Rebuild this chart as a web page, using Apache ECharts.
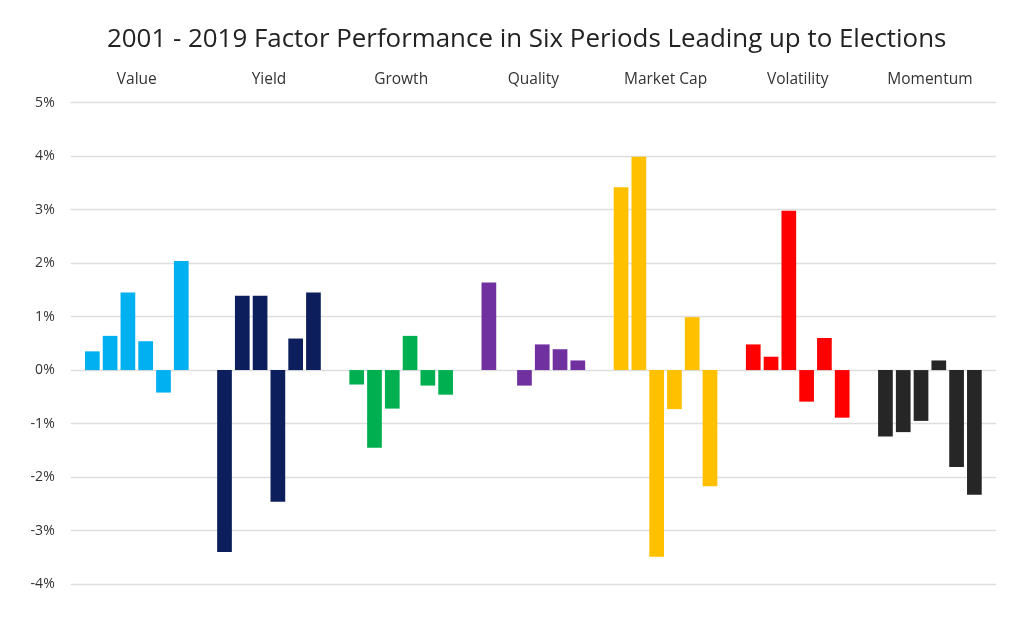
<!DOCTYPE html>
<html>
<head>
<meta charset="utf-8">
<script src="https://cdn.jsdelivr.net/npm/echarts@6/dist/echarts.min.js"></script>
<style>html,body{margin:0;padding:0;background:#fff}#c{width:1024px;height:617px}</style>
</head>
<body>
<div id="c"></div>
<script>
var categories = ['Value', 'Yield', 'Growth', 'Quality', 'Market Cap', 'Volatility', 'Momentum'];
var colors = ['#00b0f0', '#0c1f5c', '#00b050', '#7030a0', '#ffc000', '#ff0000', '#262626'];
var valueF      = [0.35, 0.64, 1.45, 0.54, -0.42, 2.04];
var yieldF      = [-3.40, 1.39, 1.39, -2.46, 0.59, 1.45];
var growthF     = [-0.27, -1.45, -0.72, 0.64, -0.29, -0.46];
var qualityF    = [1.64, 0, -0.29, 0.48, 0.39, 0.18];
var marketCapF  = [3.42, 3.99, -3.49, -0.73, 0.99, -2.17];
var volatilityF = [0.48, 0.25, 2.98, -0.59, 0.60, -0.89];
var momentumF   = [-1.24, -1.16, -0.95, 0.18, -1.81, -2.33];
var yTicks = [-4, -3, -2, -1, 0, 1, 2, 3, 4, 5];

var factors = [valueF, yieldF, growthF, qualityF, marketCapF, volatilityF, momentumF];
var series = [];
for (var p = 0; p < 6; p++) {
  series.push({
    type: 'bar',
    name: 'Period ' + (p + 1),
    barWidth: 14.7,
    barGap: '21%',
    data: factors.map(function (f, i) {
      return { value: f[p], itemStyle: { color: colors[i] } };
    })
  });
}

var chart = echarts.init(document.getElementById('c'));
chart.setOption({
  animation: false,
  title: {
    text: '2001 - 2019 Factor Performance in Six Periods Leading up to Elections',
    left: 102,
    top: 22,
    textStyle: { fontFamily: 'Open Sans', fontSize: 25.9, fontWeight: 'normal', color: '#222' }
  },
  grid: { left: 70.7, right: 28, top: 102.7, bottom: 33 },
  xAxis: {
    type: 'category',
    position: 'top',
    data: categories,
    axisLine: { show: false },
    axisTick: { show: false },
    axisLabel: { fontFamily: 'Open Sans', fontSize: 15.5, color: '#333', margin: 15 }
  },
  yAxis: {
    type: 'value',
    min: yTicks[0],
    max: yTicks[yTicks.length - 1],
    interval: 1,
    axisLine: { show: false },
    axisTick: { show: false },
    axisLabel: { fontFamily: 'Open Sans', fontSize: 14, color: '#333', margin: 16, formatter: '{value}%' },
    splitLine: { lineStyle: { color: '#dedede', width: 1.3 } }
  },
  series: series
});
</script>
</body>
</html>
